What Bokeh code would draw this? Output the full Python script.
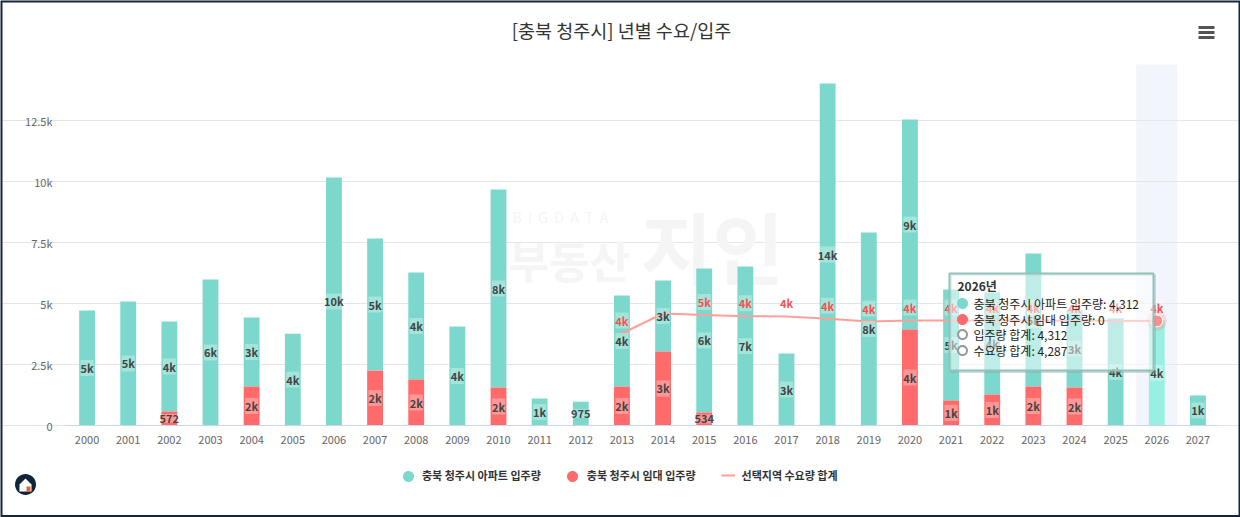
from bokeh.plotting import figure
from bokeh.embed import file_html
from bokeh.resources import INLINE
from bokeh.models import (Range1d, FixedTicker, Label, BoxAnnotation, PolyAnnotation,
                          Legend, LegendItem, ColumnDataSource)
from bokeh.core.properties import value
import math

years = list(range(2000, 2028))
apt = [4713, 5082, 3690, 5984, 2826, 3760, 10164, 5414, 4385, 4057, 8115, 1106, 975, 3730,
       2910, 5900, 6516, 2950, 14016, 7910, 8606, 4549, 4180, 5451, 3190, 4385, 4312, 1230]
rental = [0, 0, 572, 0, 1600, 0, 0, 2250, 1885, 0, 1557, 0, 0, 1598,
          3033, 534, 0, 0, 0, 0, 3934, 1025, 1270, 1598, 1557, 0, 0, 0]
demand_years = list(range(2013, 2027))
demand = [3770, 4590, 4530, 4480, 4470, 4380, 4260, 4300, 4300, 4300, 4300, 4290, 4290, 4287]
y_ticks = [0, 2500, 5000, 7500, 10000, 12500]
y_tick_labels = ["0", "2.5k", "5k", "7.5k", "10k", "12.5k"]
title_text = "[충북 청주시] 년별 수요/입주"
legend_names = ["충북 청주시 아파트 입주량", "충북 청주시 임대 입주량", "선택지역 수요량 합계"]
tooltip_lines = ["충북 청주시 아파트 입주량: 4,312", "충북 청주시 임대 입주량: 0",
                 "입주량 합계: 4,312", "수요량 합계: 4,287"]

FONT = "Noto Sans CJK KR"
TEAL, RED, LINE, HILITE = "#7cd8cc", "#ff6b6b", "#ff9f99", "#f2f5fc"

W, H = 1240, 517
L, R, T, B = 66, 1218, 64, 425
X0, X1 = 1999.5, 2027.5
YT = (B - T) * 12500 / 305


def px(x):
    return X0 + (x - L) * (X1 - X0) / (R - L)


def py(y):
    return (B - y) * YT / (B - T)


def disc(cx, cy, r, **kw):
    angles = [i * 2 * math.pi / 36 for i in range(36)]
    return PolyAnnotation(xs=[px(cx + r * math.cos(a)) for a in angles],
                          ys=[py(cy + r * math.sin(a)) for a in angles], **kw)


p = figure(width=W, height=H, output_backend="svg", toolbar_location=None,
           x_range=Range1d(px(0), px(W)), y_range=Range1d(py(H), py(0)),
           min_border_left=0, min_border_right=0, min_border_top=0, min_border_bottom=0)
p.outline_line_color = None
p.background_fill_color = "white"

p.xaxis.fixed_location = 0
p.xaxis.bounds = (X0, X1)
p.xaxis.ticker = FixedTicker(ticks=years)
p.xaxis.major_label_overrides = {y: str(y) for y in years}
p.xaxis.major_tick_line_color = None
p.xaxis.minor_tick_line_color = None
p.xaxis.axis_line_color = "#ccd6eb"
p.xaxis.major_label_text_font = FONT
p.xaxis.major_label_text_font_size = "11px"
p.xaxis.major_label_text_color = "#666666"
p.xaxis.major_label_standoff = 4

p.yaxis.fixed_location = X0
p.yaxis.bounds = (0, YT)
p.yaxis.ticker = FixedTicker(ticks=y_ticks)
p.yaxis.major_label_overrides = dict(zip(y_ticks, y_tick_labels))
p.yaxis.major_tick_line_color = None
p.yaxis.minor_tick_line_color = None
p.yaxis.major_tick_out = 0
p.yaxis.axis_line_color = None
p.yaxis.major_label_text_font = FONT
p.yaxis.major_label_text_font_size = "11px"
p.yaxis.major_label_text_color = "#666666"
p.yaxis.major_label_standoff = 14

p.xgrid.visible = False
p.ygrid.grid_line_color = "#e6e6e6"
p.ygrid.bounds = (X0, X1)

# title
p.add_layout(Label(x=px(621), y=py(29), text=title_text, text_font=FONT, text_font_size="18.5px",
                   text_color="#333333", text_align="center", text_baseline="middle"))

# watermark
wm_spaced = "\u00a0\u00a0".join("BIGDATA")
for txt, x, y, size, col, style in [(wm_spaced, 512, 216, "14px", "#f5f5f5", "normal"),
                                    ("부동산", 508, 259, "44px", "#f5f5f5", "bold"),
                                    ("지인", 640, 244, "78px", "#f5f5f5", "bold")]:
    p.add_layout(Label(x=px(x), y=py(y), text=txt, text_font=FONT, text_font_size=size,
                       text_color=col, text_align="left", text_baseline="middle",
                       text_font_style=style, level="underlay"))

# highlighted category
p.vbar(x=[2026], bottom=0, top=[YT], width=1, fill_color=HILITE, line_color=None, level="underlay")

bar_w = 0.385
colors = [("#98efe2" if y == 2026 else TEAL) for y in years]
src = ColumnDataSource(dict(x=years, rental=rental, total=[a + r for a, r in zip(apt, rental)], color=colors))
p.vbar(x="x", bottom="rental", top="total", width=bar_w, fill_color="color", line_color=None, source=src)
p.vbar(x="x", bottom=0, top="rental", width=bar_w, fill_color=RED, line_color=None, source=src)

# demand line
dem_r = p.line(demand_years, demand, line_color=LINE, line_width=2)


def fmt(v):
    return f"{round(v / 1000)}k" if v >= 1000 else str(v)


lx, ly, lt = [], [], []
for y, a, r in zip(years, apt, rental):
    lx.append(y); ly.append(r + a / 2); lt.append(fmt(a))
    if r:
        lx.append(y); ly.append(r / 2); lt.append(fmt(r))
p.text(lx, ly, text=lt, text_font=value(FONT), text_font_size="11px", text_font_style="bold",
       text_color="#444444", text_align="center", text_baseline="middle",
       background_fill_color="white", background_fill_alpha=0.3)

dx, dy, dt = [], [], []
for y, d in zip(demand_years, demand):
    if y == 2014:
        continue
    dx.append(y); dy.append(d); dt.append(fmt(d))
p.text(dx, dy, text=dt, text_font=value(FONT), text_font_size="11px", text_font_style="bold",
       text_color="#ff4d4d", text_align="center", text_baseline="middle", y_offset=-13,
       background_fill_color="white", background_fill_alpha=0.3)

# hovered point
p.scatter([2026], [demand[-1]], size=20, fill_color=RED, fill_alpha=0.2, line_color=None)
p.scatter([2026], [demand[-1]], size=12, fill_color="#ff8f8a", line_color="white", line_width=1)

# tooltip
p.add_layout(BoxAnnotation(left=px(950.5), right=px(1154.5), top=py(274.5), bottom=py(371.5),
                           fill_alpha=0, line_color="#999999", line_alpha=0.35,
                           line_width=2, level="overlay"))
p.add_layout(BoxAnnotation(left=px(949), right=px(1153), top=py(273), bottom=py(370),
                           fill_color="white", fill_alpha=0.5, line_color="#8cc4bb", line_alpha=1,
                           line_width=2, level="overlay"))
row_y = [303, 319, 334, 350]
p.add_layout(disc(962, row_y[0], 5.5, fill_color=TEAL, fill_alpha=1, line_color=None, level="overlay"))
p.add_layout(disc(962, row_y[1], 5.5, fill_color=RED, fill_alpha=1, line_color=None, level="overlay"))
for ry in row_y[2:]:
    p.add_layout(disc(962, ry, 4.5, fill_color="white", fill_alpha=1, line_color="#999999",
                      line_alpha=1, line_width=2, level="overlay"))
p.add_layout(Label(x=px(957), y=py(285), text="2026년", text_font=FONT, text_font_size="12px",
                   text_font_style="bold", text_color="#333333", text_baseline="middle", level="overlay"))
for txt, ry in zip(tooltip_lines, row_y):
    p.add_layout(Label(x=px(973), y=py(ry), text=txt, text_font=FONT, text_font_size="12px",
                       text_color="#222222", text_baseline="middle", level="overlay"))

# menu icon
for yy in (27, 32, 37):
    p.add_layout(PolyAnnotation(xs=[px(1198), px(1214), px(1214), px(1198)],
                                ys=[py(yy - 1.5), py(yy - 1.5), py(yy + 1.5), py(yy + 1.5)],
                                fill_color="#555555", fill_alpha=1, line_color=None))

# logo
p.add_layout(disc(25, 484, 10.5, fill_color="#10243a", fill_alpha=1, line_color=None))
p.add_layout(PolyAnnotation(xs=[px(v) for v in (19, 25, 31, 31, 19)],
                            ys=[py(v) for v in (484, 478, 484, 491, 491)],
                            fill_color="white", fill_alpha=1, line_color=None))
p.add_layout(PolyAnnotation(xs=[px(v) for v in (26, 30, 30, 26)],
                            ys=[py(v) for v in (486, 486, 491, 491)],
                            fill_color="#e2662c", fill_alpha=1, line_color=None))

# legend
nan = float("nan")
r1 = p.scatter([nan], [nan], size=11, fill_color=TEAL, line_color=None)
r2 = p.scatter([nan], [nan], size=11, fill_color=RED, line_color=None)
legend = Legend(items=[LegendItem(label=legend_names[0], renderers=[r1]),
                       LegendItem(label=legend_names[1], renderers=[r2]),
                       LegendItem(label=legend_names[2], renderers=[dem_r])],
                orientation="horizontal", location=(401, 34), background_fill_alpha=0,
                border_line_color=None, label_text_font=FONT, label_text_font_size="11px",
                label_text_font_style="bold", label_text_color="#333333",
                glyph_width=14, glyph_height=12, spacing=25, label_standoff=7, margin=0, padding=0)
p.add_layout(legend)
p.add_layout(disc(408, 476, 5.5, fill_color=TEAL, fill_alpha=1, line_color=None))
p.add_layout(disc(572, 476, 5.5, fill_color=RED, fill_alpha=1, line_color=None))

# outer frame
p.add_layout(PolyAnnotation(xs=[px(v) for v in (0.5, 1239.5, 1239.5, 0.5)],
                            ys=[py(v) for v in (0.5, 0.5, 516, 516)],
                            fill_alpha=0, line_color="#16263a", line_alpha=1, line_width=3))

open("out.html", "w").write(file_html(p, INLINE))
